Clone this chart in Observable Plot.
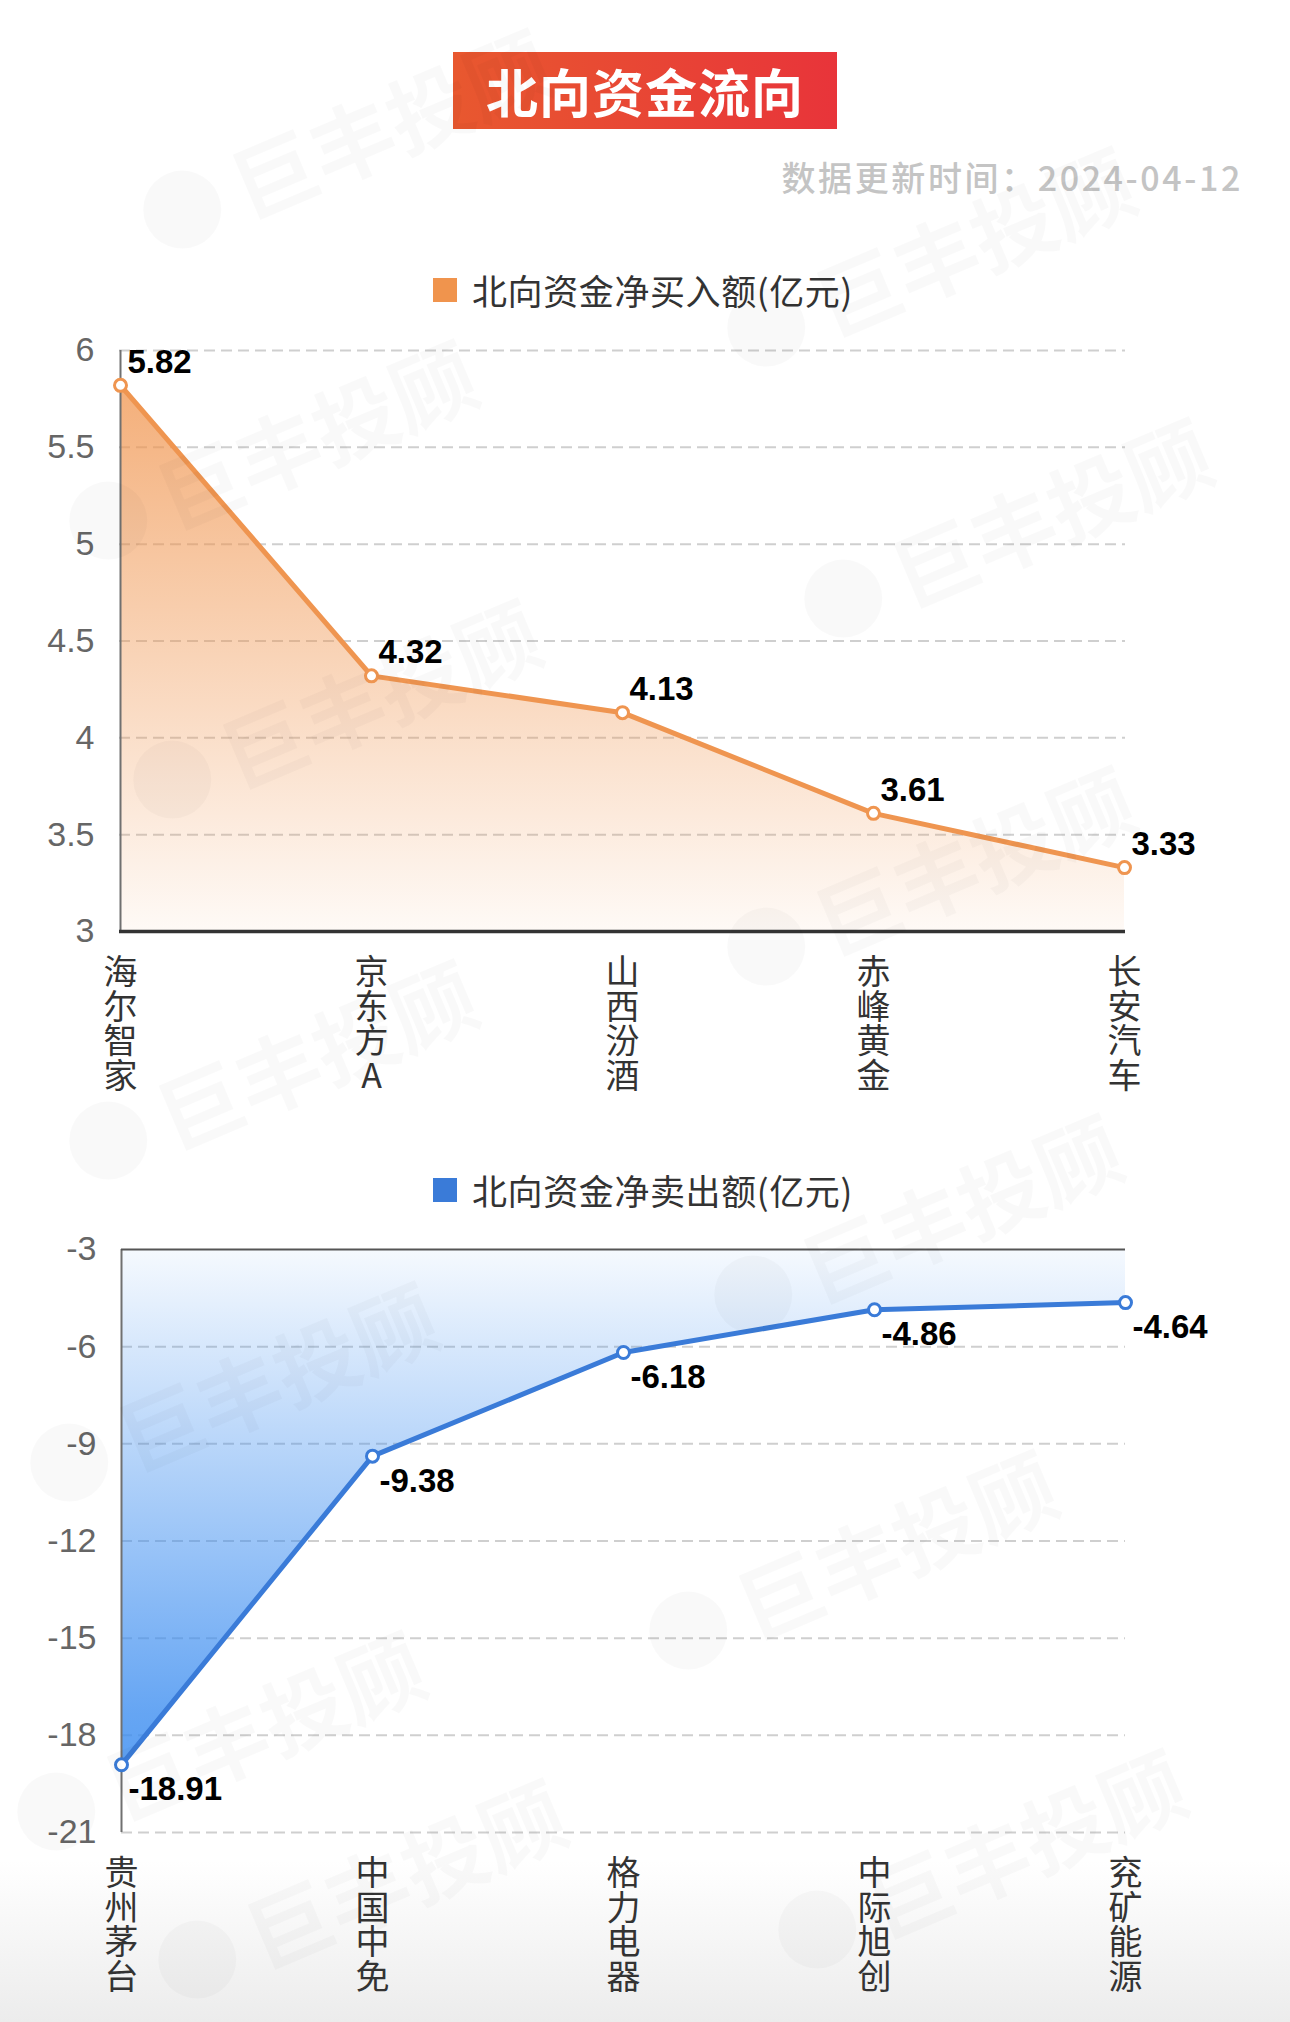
<!DOCTYPE html>
<html>
<head>
<meta charset="utf-8">
<script src="https://cdn.jsdelivr.net/npm/d3@7"></script>
<script src="https://cdn.jsdelivr.net/npm/@observablehq/plot@0.6"></script>
<style>
  html, body { margin: 0; padding: 0; }
  body {
    width: 1290px; height: 2022px; position: relative; overflow: hidden;
    background: linear-gradient(to bottom, #ffffff 0%, #ffffff 92%, #ececec 100%);
    font-family: "Noto Sans CJK SC", "Noto Sans", sans-serif;
  }
  .abs { position: absolute; }
  #title {
    left: 453px; top: 52px; width: 384px; height: 77px;
    background: linear-gradient(to right, #e8582f, #e8343a);
    color: #fff; font-size: 52px; font-weight: 700;
    display: flex; align-items: center; justify-content: center; letter-spacing: 1px;
  }
  #subtitle {
    right: 47px; top: 155px; font-size: 34px; color: #c4c4c4; font-weight: 500; letter-spacing: 2.6px;
    line-height: 44px;
  }
  .legend { display: flex; align-items: center; left: 433px; font-size: 35px; color: #333; letter-spacing: 0.6px; }
  .legend .sw { width: 24px; height: 24px; margin-right: 15px; }
  .chart { left: 0; }
  .wm {
    position: absolute; pointer-events: none; display: flex; align-items: center;
    transform: translate(-50%, -50%) rotate(-23deg); white-space: nowrap;
    color: rgba(0,0,0,0.025); font-size: 84px; font-weight: 700; z-index: 5;
  }
  .wm .logo { width: 78px; height: 78px; border-radius: 50%; background: rgba(0,0,0,0.022); margin-right: 18px; }
</style>
</head>
<body>
<div id="title" class="abs">北向资金流向</div>
<div id="subtitle" class="abs">数据更新时间：2024-04-12</div>
<div class="abs legend" style="top:264px;"><div class="sw" style="background:#f0944d"></div><span>北向资金净买入额(亿元)</span></div>
<div id="c1" class="abs chart" style="top:320px;"></div>
<div class="abs legend" style="top:1164px;"><div class="sw" style="background:#3a7bd8"></div><span>北向资金净卖出额(亿元)</span></div>
<div id="c2" class="abs chart" style="top:1220px;"></div>
<script>
// ---- data ----
const buyNames = ["海尔智家", "京东方A", "山西汾酒", "赤峰黄金", "长安汽车"];
const buyValues = [5.82, 4.32, 4.13, 3.61, 3.33];
const buyTicks = [3, 3.5, 4, 4.5, 5, 5.5, 6];

const sellNames = ["贵州茅台", "中国中免", "格力电器", "中际旭创", "兖矿能源"];
const sellValues = [-18.91, -9.38, -6.18, -4.86, -4.64];
const sellTicks = [-21, -18, -15, -12, -9, -6, -3];

const watermarkText = "巨丰投顾";
const watermarkSpots = [[345,140],[929,258],[271,451],[1006,529],[335,710],[929,877],[271,1071],[916,1225],[232,1393],[851,1561],[219,1742],[980,1860],[360,1890]];

const numFont = "'Liberation Sans', Arial, sans-serif";
const cjkFont = "'Noto Sans CJK SC', sans-serif";

function makeDefs(id, color, stops) {
  return () => {
    const defs = d3.create("svg:defs");
    const g = defs.append("linearGradient").attr("id", id)
      .attr("x1", 0).attr("x2", 0).attr("y1", 0).attr("y2", 1);
    for (const [off, op] of stops) {
      g.append("stop").attr("offset", off).attr("stop-color", color).attr("stop-opacity", op);
    }
    return defs.node();
  };
}

function chart({names, values, ticks, color, areaColor, gradId, stops, ml, mt, mb, base, solid, labelDy}) {
  const data = names.map((n, i) => ({name: n, value: values[i]}));
  const lo = d3.min(ticks), hi = d3.max(ticks);
  const dashed = ticks.filter(t => t !== solid);
  const svg = Plot.plot({
    width: 1290, height: 800,
    marginLeft: ml, marginRight: 165, marginTop: mt, marginBottom: mb,
    style: {background: "transparent", overflow: "visible", fontFamily: numFont},
    x: {type: "point", domain: names, padding: 0, axis: null},
    y: {domain: [lo, hi], axis: null},
    marks: [
      makeDefs(gradId, areaColor, stops),
      Plot.ruleY(dashed, {stroke: "#cfcfcf", strokeWidth: 2, strokeDasharray: "11,6"}),
      Plot.areaY(data, {x: "name", y1: base, y2: "value", fill: `url(#${gradId})`, curve: "linear"}),
      Plot.ruleX([names[0]], {x: d => d, y1: lo, y2: hi, stroke: "#707070", strokeWidth: 2}),
      Plot.ruleY([solid], {stroke: solid === lo ? "#333" : "#555", strokeWidth: solid === lo ? 3.5 : 2}),
      Plot.axisY({ticks, tickFormat: d => String(d), tickSize: 0, tickPadding: 25, fontSize: 34, fill: "#666", fontFamily: numFont, label: null}),
      Plot.line(data, {x: "name", y: "value", stroke: color, strokeWidth: 5}),
      Plot.dot(data, {x: "name", y: "value", r: 6, fill: "white", stroke: color, strokeWidth: 3}),
      Plot.text(data, {x: "name", y: "value", text: d => String(d.value), textAnchor: "start", dx: 7, dy: labelDy, fontSize: 33, fontWeight: "bold", fill: "#000", fontFamily: numFont}),
      Plot.text(names, {x: d => d, y: lo, text: d => d, textAnchor: "start", lineAnchor: "bottom", dy: 23, fontSize: 34, fill: "#333", fontFamily: cjkFont})
    ]
  });
  // make category labels vertical (one character per line, upright)
  const nameSet = new Set(names);
  d3.select(svg).selectAll("text").each(function () {
    if (nameSet.has(this.textContent) && this.querySelector("tspan") == null) {
      const t = d3.select(this);
      t.attr("y", null).attr("dy", null)
        .style("writing-mode", "vertical-rl")
        .style("text-orientation", "upright")
        .style("letter-spacing", "0.5px");
    }
  });
  return svg;
}

document.getElementById("c1").append(chart({
  names: buyNames, values: buyValues, ticks: buyTicks,
  color: "#ef9550", areaColor: "#f0944d", gradId: "gOrange",
  stops: [[0, 0.75], [1, 0.05]],
  ml: 119, mt: 30, mb: 189, base: 3, solid: 3, labelDy: -23
}));

document.getElementById("c2").append(chart({
  names: sellNames, values: sellValues, ticks: sellTicks,
  color: "#3a7bd8", areaColor: "#3a8cf0", gradId: "gBlue",
  stops: [[0, 0.05], [0.9, 0.78], [1, 0.82]],
  ml: 121, mt: 29, mb: 188, base: -3, solid: -3, labelDy: 25
}));

for (const [x, y] of watermarkSpots) {
  const d = document.createElement("div");
  d.className = "wm";
  d.style.left = x + "px"; d.style.top = y + "px";
  d.innerHTML = `<div class="logo"></div><span>${watermarkText}</span>`;
  document.body.append(d);
}
</script>
</body>
</html>
